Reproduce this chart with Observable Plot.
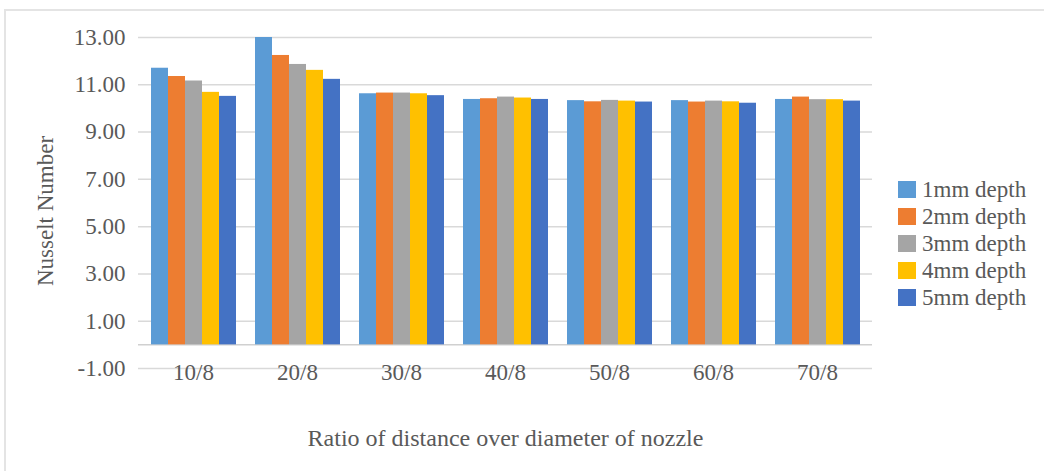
<!DOCTYPE html>
<html>
<head>
<meta charset="utf-8">
<script src="https://cdn.jsdelivr.net/npm/d3@7"></script>
<script src="https://cdn.jsdelivr.net/npm/@observablehq/plot@0.6"></script>
<style>
  html, body { margin: 0; padding: 0; background: #fff; }
  #wrap { position: relative; width: 1044px; height: 471px; overflow: hidden; }
  #back, #front { position: absolute; left: 0; top: 0; }
  #frame { position: absolute; left: 4px; top: 9px; right: -4px; bottom: -4px; border-top: 2px solid #e4e4e4; border-left: 2px solid #e4e4e4; pointer-events: none; }
  #legend { position: absolute; left: 898px; top: 176px; font-family: "Liberation Serif", "Times New Roman", serif; font-size: 23px; color: #595959; }
  #legend .row { display: flex; align-items: center; height: 27px; white-space: nowrap; }
  #legend .sw { width: 18px; height: 17px; margin-right: 6px; }
</style>
</head>
<body>
<div id="wrap">
  <div id="back"></div>
  <div id="front"></div>
  <div id="legend"></div>
  <div id="frame"></div>
</div>
<script>
const categories = ["10/8", "20/8", "30/8", "40/8", "50/8", "60/8", "70/8"];
const series = ["1mm depth", "2mm depth", "3mm depth", "4mm depth", "5mm depth"];
const depth1 = [11.70, 13.00, 10.62, 10.38, 10.33, 10.33, 10.38];
const depth2 = [11.35, 12.24, 10.65, 10.41, 10.28, 10.27, 10.48];
const depth3 = [11.16, 11.86, 10.65, 10.48, 10.34, 10.31, 10.37];
const depth4 = [10.68, 11.61, 10.62, 10.44, 10.31, 10.28, 10.37];
const depth5 = [10.51, 11.23, 10.54, 10.38, 10.27, 10.22, 10.31];
const yTicks = [-1, 1, 3, 5, 7, 9, 11, 13];
const colors = ["#5B9BD5", "#ED7D31", "#A5A5A5", "#FFC000", "#4472C4"];
const yTitle = "Nusselt Number";
const xTitle = "Ratio of distance over diameter of nozzle";

const allSeries = [depth1, depth2, depth3, depth4, depth5];
const data = [];
categories.forEach((c, i) => {
  series.forEach((s, j) => data.push({cat: c, series: s, value: allSeries[j][i]}));
});

const font = '"Liberation Serif", "Times New Roman", serif';
const common = {
  width: 1044,
  height: 471,
  marginTop: 37,
  marginBottom: 103,
  marginLeft: 138,
  marginRight: 172,
  style: {fontFamily: font, fontSize: "23px", color: "#595959", background: "transparent"},
  y: {domain: [-1, 13], label: null}
};

// Back layer: grid, axes, titles
const back = Plot.plot({
  ...common,
  x: {domain: categories, paddingInner: 0.17, paddingOuter: 0.085, label: null},
  marks: [
    Plot.gridY(yTicks, {stroke: "#d9d9d9", strokeOpacity: 1, strokeWidth: 1.5}),
    Plot.ruleY([0], {stroke: "#d0d0d0", strokeWidth: 1.5}),
    Plot.axisY(yTicks, {tickSize: 0, tickPadding: 13, tickFormat: d => d.toFixed(2), label: null, fontSize: 23}),
    Plot.axisX({anchor: "bottom", tickSize: 0, tickPadding: -5, label: null, fontSize: 23}),
    Plot.text([yTitle], {frameAnchor: "left", dx: -93, dy: 8, rotate: -90, textAnchor: "middle", lineAnchor: "middle", fontSize: 23, fill: "#595959"}),
    Plot.text([xTitle], {frameAnchor: "bottom", dy: 70, textAnchor: "middle", lineAnchor: "middle", fontSize: 24, fill: "#595959"})
  ]
});
document.getElementById("back").appendChild(back);

// Front layer: grouped bars (faceted by category)
const front = Plot.plot({
  ...common,
  fx: {domain: categories, paddingInner: 0.17, paddingOuter: 0.085, label: null, axis: null},
  x: {domain: series, padding: 0, axis: null},
  y: {domain: [-1, 13], axis: null, label: null},
  color: {domain: series, range: colors},
  marks: [
    Plot.barY(data, {fx: "cat", x: "series", y: "value", fill: "series"})
  ]
});
document.getElementById("front").appendChild(front);

const legend = document.getElementById("legend");
series.forEach((s, j) => {
  const row = document.createElement("div");
  row.className = "row";
  const sw = document.createElement("div");
  sw.className = "sw";
  sw.style.background = colors[j];
  const label = document.createElement("span");
  label.textContent = s;
  row.appendChild(sw);
  row.appendChild(label);
  legend.appendChild(row);
});
</script>
</body>
</html>
